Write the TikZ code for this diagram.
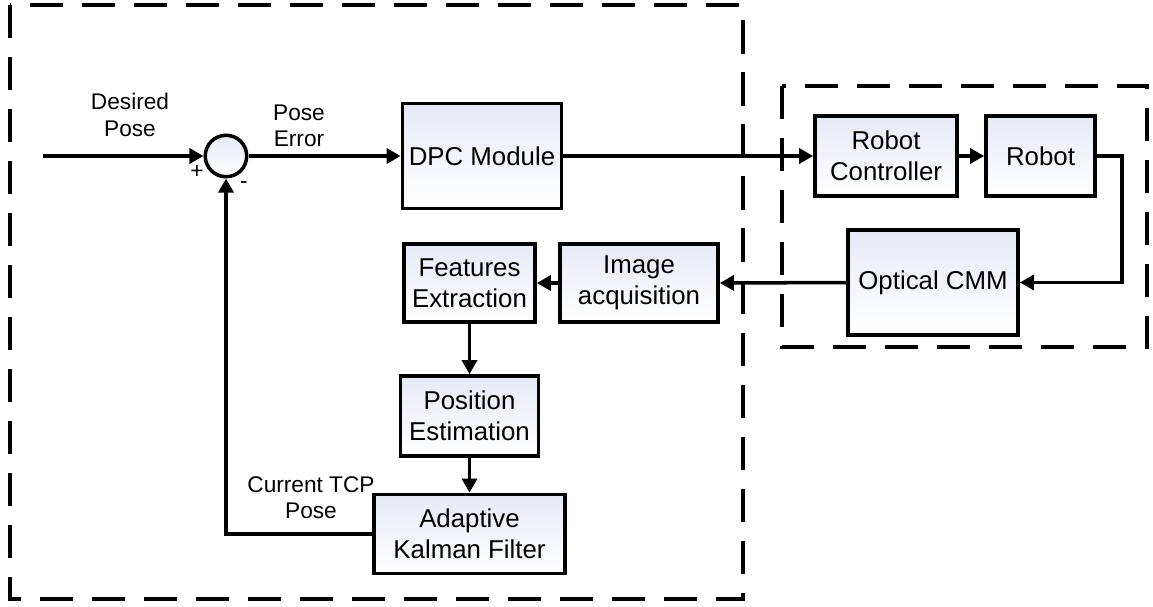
\documentclass[tikz,border=0pt]{standalone}
\usepackage{fontspec}
\setmainfont{Liberation Sans}
\usepackage{tikz}
\usetikzlibrary{arrows.meta}

\definecolor{boxtint}{RGB}{230,234,245}

\begin{document}
\begin{tikzpicture}[x=0.02cm, y=-0.02cm,
  block/.style={draw=black, line width=2.1pt, top color=boxtint, bottom color=white,
    align=center, inner sep=1pt, font=\fontsize{14.7}{17.6}\selectfont},
  lbl/.style={align=center, font=\fontsize{12.9}{15}\selectfont},
  link/.style={line width=2pt, -{Triangle[length=8pt, width=8.5pt]}},
  groupbox/.style={line width=2.4pt, dash pattern=on 18.8pt off 10.8pt}]

\useasboundingbox (0,0) rectangle (1153,606);

% Gruppi tratteggiati
\draw[groupbox] (10,5) rectangle (742.7,599);
\draw[groupbox] (782,86) rectangle (1146.7,347.3);

% Nodo sommatore
\node[draw=black, line width=2pt, circle, minimum size=0.83cm, inner sep=0pt,
  top color=boxtint, bottom color=white] (sum) at (226,156) {};
\coordinate (in) at (43,156);

% Blocchi
\node[block, minimum width=3.18cm, minimum height=2.1cm] (dpc) at (482,156) {DPC Module};
\node[block, minimum width=2.84cm, minimum height=1.6cm] (ctrl) at (886,156) {Robot\\Controller};
\node[block, minimum width=2.18cm, minimum height=1.6cm] (robot) at (1040.5,156) {Robot};
\node[block, minimum width=3.4cm, minimum height=2.1cm] (cmm) at (933,282.5) {Optical CMM};
\node[block, minimum width=3.16cm, minimum height=1.56cm] (acq) at (639,283) {Image\\acquisition};
\node[block, minimum width=2.62cm, minimum height=1.56cm] (feat) at (469.5,283) {Features\\Extraction};
\node[block, minimum width=2.76cm, minimum height=1.6cm] (pos) at (469.5,416) {Position\\Estimation};
\node[block, minimum width=3.82cm, minimum height=1.58cm] (akf) at (469.5,534) {Adaptive\\Kalman Filter};

% Etichette
\node[lbl] (desired) at (130,115) {Desired\\Pose};
\node[lbl] (err) at (299,126) {Pose\\Error};
\node[lbl] (tcp) at (311,498) {Current TCP\\Pose};
\node[lbl] (plus) at (197,172) {+};
\node[lbl] (minus) at (244,185) {-};

% Collegamenti
\draw[link] (in) -- (sum.west);
\draw[link] (sum.east) -- (dpc.west);
\draw[link] (dpc.east) -- (ctrl.west);
\draw[link] (ctrl.east) -- (robot.west);
\draw[link] (robot.east) -- ++(25,0) |- (cmm.east);
\draw[link] (cmm.west) -- (acq.east);
\draw[link] (acq.west) -- (feat.east);
\draw[link] (feat.south) -- (pos.north);
\draw[link] (pos.south) -- (akf.north);

% Retroazione
\draw[link] (akf.west) -| (sum.south);

\end{tikzpicture}
\end{document}
